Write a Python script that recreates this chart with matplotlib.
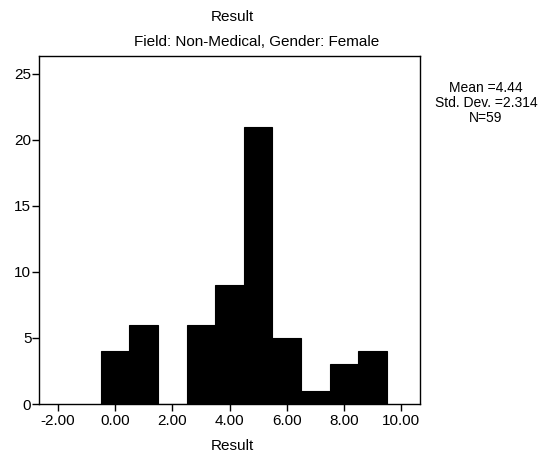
import matplotlib
matplotlib.use("Agg")
import matplotlib.pyplot as plt
import numpy as np

plt.rcParams['font.family'] = ['Liberation Sans', 'DejaVu Sans']

bin_centers = [0, 1, 2, 3, 4, 5, 6, 7, 8, 9]
counts = [4, 6, 0, 6, 9, 21, 5, 1, 3, 4]
x_ticks = [-2, 0, 2, 4, 6, 8, 10]
y_ticks = [0, 5, 10, 15, 20, 25]

fig = plt.figure(figsize=(5.51, 4.54), dpi=100)
ax = fig.add_axes([39/551, 50/454, (420-39)/551, (404-56)/454])

ax.bar(bin_centers, counts, width=1.0, color='black', edgecolor='black', linewidth=0.8)
ax.set_xlim(-2.66, 10.66)
ax.set_ylim(0, 26.36)
ax.set_xticks(x_ticks)
ax.set_xticklabels([f"{v:.2f}" for v in x_ticks])
ax.set_yticks(y_ticks)
ax.tick_params(direction='out', length=5, width=1, labelsize=11)
ax.tick_params(axis='x', pad=2)
ax.tick_params(axis='y', pad=0.5)
for s in ax.spines.values():
    s.set_linewidth(1)
fig.text(232/551, 1 - 446/454, "Result", ha='center', va='center', fontsize=11)
fig.text(257/551, 1 - 42/454, "Field: Non-Medical, Gender: Female", ha='center', va='center', fontsize=11)
fig.text(232/551, 1 - 17/454, "Result", ha='center', va='center', fontsize=11)
fig.text(486/551, 1 - 103/454, "Mean =4.44\nStd. Dev. =2.314\nN=59", ha='center', va='center',
         fontsize=10, linespacing=1.1)

fig.savefig("out.png", dpi=100)
